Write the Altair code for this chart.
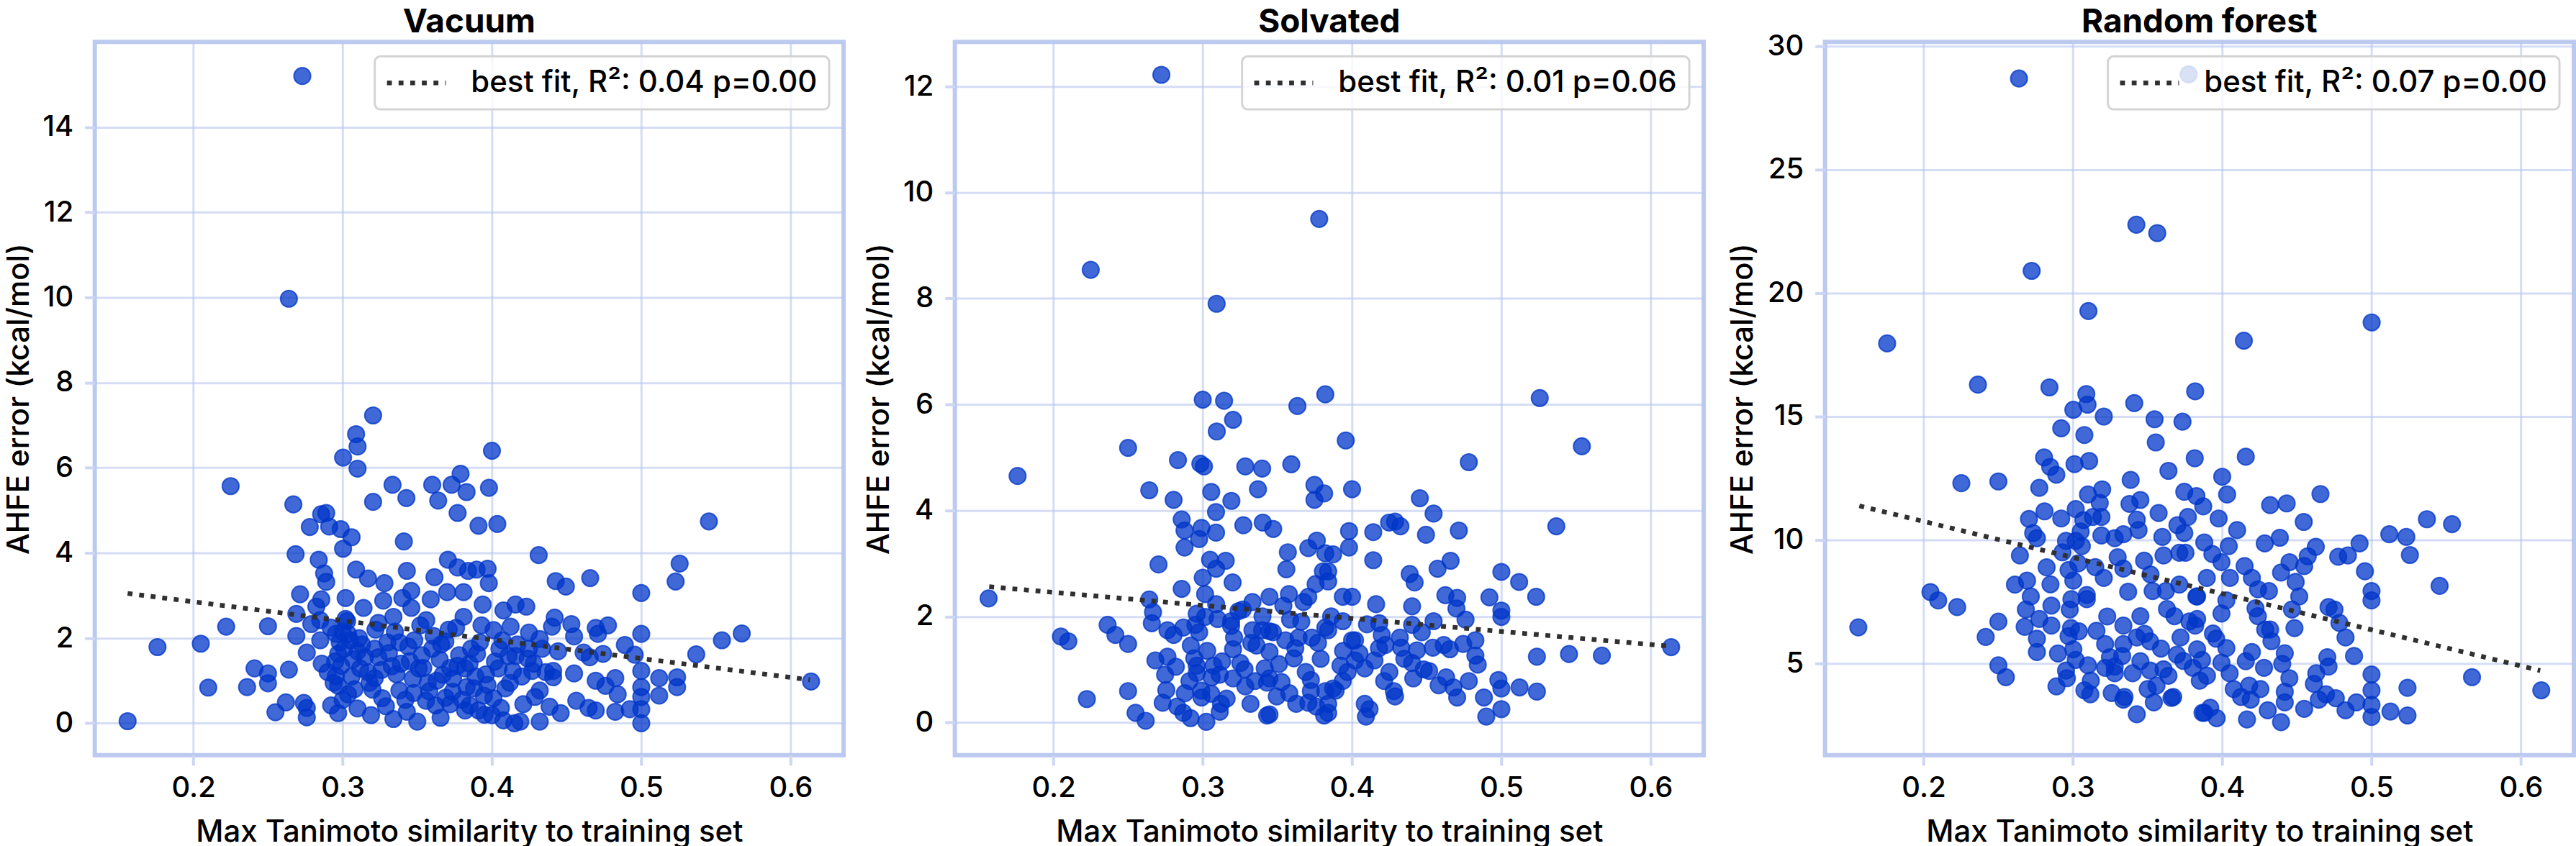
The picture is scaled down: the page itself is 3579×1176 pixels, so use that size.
import altair as alt
import pandas as pd

# ---------------- data ----------------
vac_x = [0.156,0.176,0.205,0.21,0.222,0.225,0.25,0.241,0.25,0.25,0.236,0.264,0.262,0.255,0.274,0.276,0.276,
         0.267,0.2685,0.2715,0.269,0.269,0.278,0.2856,0.289,0.291,0.2987,0.306,0.3003,0.284,0.2876,0.289,
         0.3003,0.309,0.31,0.31,0.3204,0.3204,0.3334,0.3427,0.36,0.364,0.373,0.379,0.383,0.377,0.341,0.309,
         0.317,0.328,0.343,0.3615,0.3705,0.377,0.384,0.37,0.381,0.359,0.346,0.34,0.3272,0.314,0.302,0.2857,
         0.2824,0.285,0.302,0.324,0.334,0.346,0.356,0.381,0.376,0.279,0.276,0.286,0.297,0.2955,0.3036,0.31,
         0.3215,0.3117,0.333,0.338,0.345,0.36,0.3688,0.382,0.367,0.351,0.2955,0.297,0.3036,0.32,0.3215,0.3265,
         0.338,0.3476,0.3558,0.3623,0.3737,0.383,0.2923,0.297,0.319,0.334,0.343,0.35,0.3656,0.382,0.3,0.305,
         0.295,
         0.4,0.398,0.391,0.4036,0.4313,0.4427,0.4495,0.4658,0.5,0.5257,0.523,0.5453,0.554,0.5673,0.5368,0.6137,
         0.5,0.5,0.5,0.5,0.5,0.5,0.4923,0.512,0.512,0.524,0.524,0.489,0.4956,0.4744,0.4777,0.4695,0.471,0.4655,
         0.4614,0.4532,0.455,0.442,0.4402,0.4443,0.455,0.441,0.441,0.4695,0.4826,0.4842,0.476,0.4288,0.432,
         0.4386,0.446,0.4565,0.4647,0.4695,0.4826,0.432,0.419,0.415,0.4,0.4077,0.4158,0.424,0.427,0.414,0.4044,
         0.409,0.401,0.3946,0.388,0.385,0.391,0.406,0.385,0.39,0.4011,0.4125,0.4248,0.4158,0.423,0.4077,0.3938,
         0.3971,0.3979,0.3897,0.432,0.4336,0.4248,0.411,
         0.298,0.301,0.307,0.313,0.317,0.324,0.33,0.336,0.348,0.353,0.357,0.365,0.372,0.378,0.392,0.396,0.405,
         0.42,0.428,0.436,0.3,0.31,0.372,0.395,
         0.285,0.29,0.292,0.294,0.299,0.303,0.306,0.308,0.311,0.315,0.318,0.322,0.326,0.329,0.331,0.335,0.339,
         0.342,0.344,0.347,0.352,0.354,0.358,0.361,0.363,0.366,0.369,0.371,0.374,0.377,0.38,0.386,0.389,0.393,
         0.397,0.402,0.407,0.412,0.417,0.421,
         0.273,0.264]
vac_y = [0.05,1.79,1.87,0.84,2.27,5.57,2.28,1.29,1.17,0.94,0.85,1.26,0.49,0.26,0.48,0.36,0.14,
         5.14,3.97,3.03,2.57,2.05,4.61,4.91,4.94,4.62,4.56,4.37,4.10,3.84,3.52,3.32,
         6.24,6.79,6.5,5.98,7.23,5.2,5.6,5.29,5.6,5.23,5.6,5.86,5.43,4.94,4.27,3.61,
         3.40,3.29,3.58,3.43,3.84,3.66,3.58,3.08,3.08,2.91,3.11,2.94,2.88,2.71,2.94,2.91,
         2.74,2.42,2.45,2.36,2.5,2.71,2.42,2.5,2.24,2.33,1.66,1.4,1.63,2.1,2.1,1.69,
         1.75,1.29,1.34,1.9,1.46,1.75,1.92,1.29,1.14,1.29,1.11,0.88,0.68,0.79,1.06,0.59,
         0.77,0.71,0.53,0.42,0.74,0.85,0.42,0.24,0.19,0.1,0.27,0.04,0.13,0.3,2.15,1.95,
         1.45,
         6.4,5.53,4.64,4.68,3.95,3.34,3.21,3.41,3.06,3.75,3.33,4.74,1.95,2.11,1.62,0.98,
         2.1,1.23,0.85,0.62,0.33,0.0,0.33,1.06,0.65,1.08,0.85,1.84,1.61,1.63,2.3,2.24,2.1,1.55,
         1.66,2.33,2.04,2.48,2.27,1.69,1.17,1.23,1.08,1.0,1.06,0.68,0.88,0.62,0.77,
         0.39,0.24,0.53,0.36,0.3,0.27,0.04,0.04,0.0,0.19,0.07,1.58,1.52,1.23,1.23,1.29,
         0.82,0.59,0.65,0.82,0.42,0.3,0.36,1.4,1.63,2.19,2.27,2.13,2.79,2.74,2.65,2.79,
         3.63,3.29,3.61,1.98,1.75,1.75,1.58,
         1.9,1.75,1.5,1.85,1.2,1.55,1.9,1.15,1.95,1.6,0.95,1.5,1.3,1.6,1.9,1.15,1.75,
         1.1,1.4,1.2,0.55,0.35,0.45,0.2,
         1.95,1.2,2.25,0.95,1.35,2.4,1.1,0.8,2.0,1.55,0.95,2.2,1.25,0.4,1.65,2.15,1.4,
         0.55,1.8,1.05,2.3,1.3,0.75,2.05,1.0,1.85,0.6,2.2,1.05,1.35,0.55,1.75,1.1,2.3,
         0.9,1.45,1.95,0.95,1.85,0.45,
         15.2,9.97]

solv_x = [0.1566,0.176,0.205,0.21,0.2224,0.2363,0.2415,0.25,0.25,0.25,0.255,0.2618,0.2642,0.2704,0.2805,
          0.2834,0.3,0.3143,0.3203,0.3094,0.3634,0.3821,0.2984,0.3008,0.3057,0.3192,0.3089,0.3285,0.3398,
          0.3593,0.337,0.3748,0.3748,0.3813,0.2859,0.2878,0.2878,0.2992,0.2976,0.3089,0.3272,0.3402,0.3472,
          0.3049,0.3154,0.309,0.3,0.32,0.357,0.356,0.3707,0.3764,0.3821,0.3805,0.3756,0.3707,0.2859,0.3016,
          0.2642,0.2667,0.2659,0.2764,0.2805,0.287,0.2951,0.2976,0.3016,0.309,0.319,0.319,0.3268,0.3333,
          0.3447,0.3577,0.3675,0.3585,0.3333,0.3398,0.3447,0.3325,0.3203,0.3553,0.3642,0.3772,0.3821,0.3447,
          0.361,0.2683,0.2764,0.2748,0.2756,0.2943,0.296,0.296,0.2911,0.3073,0.3114,0.3203,0.3252,0.3285,
          0.335,0.3415,0.3447,0.3496,0.3528,0.3724,0.3724,0.3626,0.3707,0.3821,0.3813,0.3431,0.3447,0.2732,
          0.2829,0.287,0.2919,0.3024,0.2992,0.3057,0.3114,0.3122,
          0.3958,0.5257,0.5539,0.4782,0.4,0.4454,0.4546,0.5368,0.398,0.4142,0.4248,0.4288,0.4324,0.4495,
          0.4715,0.398,0.3873,0.4142,0.4386,0.4419,0.4573,0.466,0.5,0.5119,0.5233,0.384,0.384,0.3938,0.4,
          0.4161,0.4402,0.4625,0.4704,0.4699,0.476,0.492,0.5,0.5,0.4546,0.4402,0.4467,0.4182,0.3938,0.384,
          0.402,0.4199,0.432,0.4329,0.4223,0.4435,0.4541,0.4614,0.4655,0.4744,0.4826,0.4826,0.4842,0.5238,
          0.5453,0.5673,0.6137,0.3922,0.402,0.415,0.4085,0.4402,0.4516,0.441,0.4215,0.428,0.4288,0.3938,
          0.3873,0.384,0.384,0.4085,0.4117,0.4093,0.463,0.4679,0.4704,0.4782,0.4883,0.4899,0.498,0.5,0.5,
          0.5122,0.5238,0.4,
          0.282,0.288,0.292,0.296,0.299,0.303,0.306,0.31,0.313,0.316,0.321,0.324,0.328,0.332,0.336,0.34,0.343,
          0.347,0.351,0.354,0.358,0.362,0.366,0.369,0.373,0.376,0.379,0.386,0.389,0.394,0.397,0.405,0.41,
          0.418,0.425,0.435,0.448,0.458,
          0.2723,0.378,0.225,0.3093]
solv_y = [2.34,4.65,1.62,1.53,0.44,1.84,1.65,1.48,5.18,0.59,0.18,0.03,4.38,2.98,4.2,
          4.95,6.09,6.07,5.71,5.49,5.97,6.19,4.88,4.83,4.35,4.18,3.97,4.83,4.79,
          4.87,4.4,4.48,4.2,4.32,3.83,3.62,3.3,3.67,3.46,3.58,3.72,3.77,3.65,
          3.07,3.05,2.9,2.73,2.64,3.21,2.89,3.29,3.43,3.19,2.85,2.61,2.37,2.52,2.42,
          2.32,2.08,1.87,1.74,1.65,1.79,1.84,1.7,1.99,2.23,1.91,1.82,2.13,2.27,
          2.37,2.42,2.27,1.94,1.74,1.74,1.72,1.5,1.38,1.55,1.6,1.5,1.79,1.33,
          1.21,1.17,1.24,0.9,0.61,1.21,1.07,0.93,0.78,1.07,0.9,0.83,1.12,0.68,
          0.78,1.02,0.83,0.49,0.76,0.8,0.59,0.35,0.37,0.59,0.13,0.13,0.15,0.37,
          0.3,0.18,0.08,0.01,0.47,0.54,0.2,0.35,
          5.32,6.12,5.21,4.91,4.4,4.23,3.94,3.7,3.61,3.59,3.77,3.79,3.7,3.54,
          3.62,3.3,3.17,3.06,2.8,2.64,2.9,3.05,2.84,2.65,2.37,2.85,2.66,2.37,2.37,
          2.23,2.19,2.4,2.35,2.15,1.94,2.36,2.11,1.99,1.91,1.84,1.7,1.87,1.91,1.74,
          1.55,1.65,1.6,1.41,1.46,1.36,1.41,1.46,1.38,1.48,1.55,1.26,1.09,1.24,
          1.29,1.26,1.42,1.07,1.17,1.17,1.02,1.12,0.97,0.83,0.78,0.59,0.49,0.78,
          0.64,0.35,0.18,0.35,0.25,0.11,0.85,0.66,0.47,0.78,0.47,0.11,0.8,0.64,0.25,
          0.66,0.58,1.55,
          1.05,0.55,1.45,2.05,0.6,1.35,0.85,1.95,1.15,0.45,1.6,2.1,1.0,0.35,1.45,2.0,0.75,
          1.7,1.1,2.2,0.55,1.4,1.9,0.95,1.6,0.3,1.2,2.0,0.6,1.35,0.95,1.3,1.85,
          1.4,0.95,1.2,1.0,0.7,
          12.22,9.5,8.54,7.9]

rf_x = [0.1563,0.2046,0.2098,0.2225,0.2253,0.2364,0.2501,0.2501,0.2416,0.2501,0.2551,0.2843,0.2775,0.2807,
        0.2848,0.2889,0.2706,0.281,0.2734,0.2759,0.2922,0.3019,0.3011,0.3109,0.3003,0.2922,0.309,0.3098,
        0.3207,0.3077,0.3411,0.3547,0.3734,0.3555,0.364,0.3387,0.3819,0.3816,0.3196,0.3101,0.3191,0.3134,
        0.3052,0.3019,0.2954,0.306,0.3191,0.328,0.3338,0.3379,0.3452,0.3428,0.3574,0.3599,0.3746,0.377,
        0.3746,0.3607,0.3713,0.3754,0.3827,0.2645,0.2824,0.2971,0.3003,0.3093,0.3093,0.3036,0.3207,0.3338,
        0.3477,0.3534,0.3623,0.3713,0.3827,0.2612,0.2693,0.2718,0.2685,0.2677,0.2775,0.2856,0.2979,0.2856,
        0.2987,0.2759,0.2759,0.2971,0.3003,0.2954,0.3019,0.3101,0.289,0.3077,0.3117,0.3158,0.3216,0.3248,
        0.328,0.3338,0.3338,0.3428,0.3452,0.3517,0.3452,0.3517,0.3607,0.364,0.368,0.3721,0.3697,0.3803,
        0.3819,0.3501,0.3542,0.3672,0.3346,0.3338,0.3428,0.3868,0.328,0.3216,
        0.4158,0.4,0.4033,0.3873,0.3976,0.4321,0.4432,0.4658,0.4546,0.5371,0.5539,0.5119,0.5233,0.5257,
        0.5456,0.492,0.4627,0.4573,0.4386,0.4285,0.4777,0.4842,0.4956,0.5,0.5,0.4451,0.4549,0.4394,0.4492,
        0.4516,0.4467,0.4484,0.4313,0.4712,0.4752,0.4785,0.4826,0.4883,0.4044,0.3934,0.3995,0.3897,0.4052,
        0.415,0.4199,0.3832,0.4028,0.3995,0.4223,0.4239,0.4288,0.4321,0.3832,0.3938,0.3832,0.4028,0.3865,
        0.3995,0.3898,0.4158,0.4199,0.428,0.4419,0.4402,0.4077,0.4126,0.4191,0.4256,0.4305,0.4419,0.4419,
        0.4549,0.4394,0.4166,0.3963,0.3881,0.4614,0.463,0.4695,0.4647,0.4704,0.4712,0.4761,0.4826,0.4899,
        0.5,0.5,0.5,0.5,0.5127,0.5241,0.5241,0.5673,0.6137,
        0.285,0.29,0.293,0.296,0.299,0.304,0.307,0.312,0.315,0.318,0.323,0.326,0.33,0.333,0.337,0.34,0.344,
        0.348,0.352,0.356,0.359,0.363,0.366,0.37,0.374,0.378,0.385,0.388,0.392,0.396,0.405,0.41,0.418,0.424,
        0.433,0.445,
        0.2639,0.3775,0.3425,0.3565,0.2724,0.3104,0.1756,0.4145,0.5001]
rf_y = [6.46,7.89,7.55,7.28,12.3,16.29,12.37,6.69,6.07,4.92,4.44,16.18,12.11,13.34,
        12.96,12.64,10.85,11.16,10.28,10.07,10.87,11.25,13.07,13.2,15.27,14.52,15.91,15.48,
        15.0,14.25,15.54,14.89,14.79,13.95,12.8,12.43,16.02,13.31,12.05,11.84,10.93,10.93,
        10.34,9.96,9.96,9.75,10.18,10.07,10.23,11.46,11.62,10.82,11.09,10.12,11.95,10.93,
        10.28,9.37,9.48,9.48,11.78,9.37,8.89,8.78,8.35,7.77,7.6,9.05,8.46,8.84,
        9.16,7.93,7.93,8.19,7.71,8.19,8.35,7.71,7.18,6.48,6.8,7.34,7.18,6.53,
        6.43,6.0,5.46,6.1,5.57,4.71,5.14,4.92,4.07,3.91,3.75,6.32,5.78,5.25,
        4.6,6.53,5.78,6.05,6.91,5.89,5.09,4.71,4.76,4.5,6.91,6.05,5.35,4.82,
        6.53,3.96,3.42,3.64,3.64,3.53,2.94,3.0,4.87,4.82,
        13.37,12.56,11.84,11.36,10.87,11.41,11.48,11.86,10.73,10.84,10.64,10.23,10.12,9.39,
        8.14,9.86,9.72,9.34,10.09,9.86,9.32,9.37,8.73,7.93,7.55,9.1,8.94,8.68,8.3,
        7.71,7.18,6.43,7.93,7.28,7.18,6.64,6.05,5.3,9.75,9.43,9.1,8.46,8.46,
        8.94,8.46,7.71,7.55,7.02,7.23,6.91,6.37,6.37,6.8,6.21,5.57,5.62,5.14,
        5.03,4.5,5.09,5.46,4.82,5.41,4.98,3.96,3.64,3.53,3.96,3.1,3.85,3.42,
        3.16,2.62,2.73,2.78,3.0,4.17,4.6,3.75,3.53,5.25,4.87,3.59,3.1,3.42,
        4.55,3.91,3.32,2.83,3.05,4.01,2.89,4.44,3.91,
        8.2,5.4,9.5,4.4,7.6,6.3,10.8,4.3,8.9,11.5,6.9,3.8,9.3,5.3,7.9,4.6,10.4,
        6.2,8.6,4.1,5.6,7.2,3.6,10.6,5.1,6.7,4.3,9.9,3.2,6.0,4.6,10.4,4.1,8.0,
        5.9,4.4,
        28.69,28.86,22.77,22.43,20.9,19.27,17.96,18.07,18.81]

fit_x_vac = [0.156, 0.613]
fit_y_vac = [3.05, 1.02]
fit_x_solv = [0.157, 0.612]
fit_y_solv = [2.56, 1.44]
fit_x_rf = [0.157, 0.613]
fit_y_rf = [11.38, 4.71]

titles = ["Vacuum", "Solvated", "Random forest"]
fit_labels = ["best fit, R\u00b2: 0.04 p=0.00",
              "best fit, R\u00b2: 0.01 p=0.06",
              "best fit, R\u00b2: 0.07 p=0.00"]
x_ticks = [0.2, 0.3, 0.4, 0.5, 0.6]
y_ticks_vac = [0, 2, 4, 6, 8, 10, 12, 14]
y_ticks_solv = [0, 2, 4, 6, 8, 10, 12]
y_ticks_rf = [5, 10, 15, 20, 25, 30]

X_DOMAIN = [0.134, 0.6355]
Y_DOM_VAC = [-0.75, 16.0]
Y_DOM_SOLV = [-0.62, 12.84]
Y_DOM_RF = [1.28, 30.17]

# ---------------- styling ----------------
FONT = "Inter"
BLUE = "#0036c8"
FRAME = "#bccaf0"


def panel(xs, ys, fx, fy, label, title, yvals, ydom, title_offset):
    pts = pd.DataFrame({"x": xs, "y": ys})
    fit = pd.DataFrame({"x": fx, "y": fy, "label": [label] * len(fx)})
    xenc = alt.X("x:Q", scale=alt.Scale(domain=X_DOMAIN, nice=False, zero=False),
                 axis=alt.Axis(values=x_ticks, format=".1f",
                               title="Max Tanimoto similarity to training set"))
    yenc = alt.Y("y:Q", scale=alt.Scale(domain=ydom, nice=False, zero=False),
                 axis=alt.Axis(values=yvals, format="d", title="AHFE error (kcal/mol)"))
    points = alt.Chart(pts).mark_circle(
        size=540, color=BLUE, opacity=1, fillOpacity=0.75,
        stroke=BLUE, strokeWidth=2, strokeOpacity=0.75
    ).encode(x=xenc, y=yenc)
    line = alt.Chart(fit).mark_line(
        strokeWidth=6.5, strokeDash=[6.8, 9.4], strokeCap="butt"
    ).encode(
        x="x:Q", y="y:Q",
        color=alt.Color("label:N", scale=alt.Scale(range=["#303030"]),
                        legend=alt.Legend(
                            title=None, orient="top-right", offset=20,
                            symbolType="M-4.1,0H4.1", symbolSize=400,
                            symbolStrokeWidth=6.5, symbolDash=[6.8, 9.4],
                            symbolOffset=21, labelOffset=55,
                            labelFontSize=42, labelColor="black", labelLimit=2000,
                            labelFontWeight=500,
                            padding=16, cornerRadius=8,
                            strokeColor="#d4d4d4",
                            fillColor="rgba(255,255,255,0.8)")),
    )
    return alt.layer(points, line).properties(
        width=1043, height=994,
        title=alt.Title(title, fontSize=46, fontWeight="bold", color="black",
                        anchor="middle", offset=title_offset, font=FONT, frame="group")
    )


p1 = panel(vac_x, vac_y, fit_x_vac, fit_y_vac, fit_labels[0], titles[0], y_ticks_vac, Y_DOM_VAC, 3)
p2 = panel(solv_x, solv_y, fit_x_solv, fit_y_solv, fit_labels[1], titles[1], y_ticks_solv, Y_DOM_SOLV, 3)
p3 = panel(rf_x, rf_y, fit_x_rf, fit_y_rf, fit_labels[2], titles[2], y_ticks_rf, Y_DOM_RF, -11)

inner = alt.hconcat(p2, p3, spacing=28).resolve_scale(
    color="independent", x="independent", y="independent")
chart = alt.hconcat(p1, inner, spacing=22).resolve_scale(
    color="independent", x="independent", y="independent"
).configure(
    font=FONT, padding={"left": 2, "top": 3, "right": 0, "bottom": 0}
).configure_view(
    stroke=FRAME, strokeWidth=6
).configure_axis(
    labelFontSize=40, labelColor="black", labelFont=FONT, labelFontWeight=500,
    titleFontSize=42, titleColor="black", titleFontWeight=500, titleFont=FONT,
    tickSize=14, tickWidth=4, tickColor="#cdd6f3",
    domain=False, gridColor="#b9c6ee", gridOpacity=0.6, gridWidth=3,
    zindex=1
).configure_axisX(labelPadding=12, titlePadding=21).configure_axisY(
    labelPadding=16, titlePadding=11
).configure_legend(
    strokeWidth=3
)

chart.save("out.html", embed_options={"renderer": "svg", "actions": False})
